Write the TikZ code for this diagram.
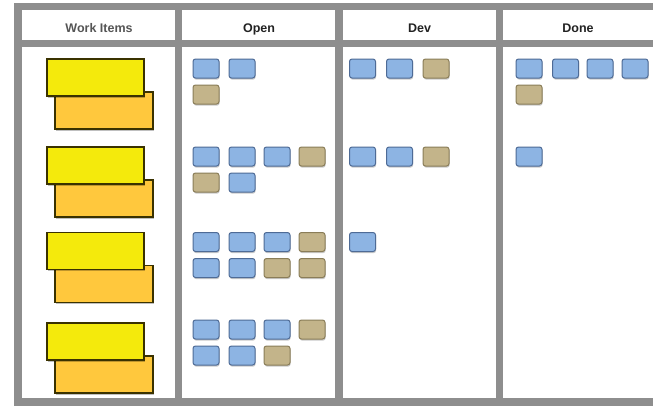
\documentclass[tikz,border=0pt]{standalone}
\usepackage{fontspec}
\newfontfamily\hdrfont{Liberation Sans}
\usetikzlibrary{shadows}
\definecolor{gridgray}{HTML}{8E8E8E}
\definecolor{cardblue}{HTML}{8DB4E3}
\definecolor{cardblueline}{HTML}{4E6B96}
\definecolor{cardtan}{HTML}{C3B48A}
\definecolor{cardtanline}{HTML}{8A7D58}
\definecolor{noteyellow}{HTML}{F4EA0C}
\definecolor{noteorange}{HTML}{FFC83D}
\definecolor{noteline}{HTML}{3A3200}
\definecolor{hdrtext}{HTML}{222222}
\definecolor{hdrlight}{HTML}{555555}
\tikzset{
  gridline/.style={draw=gridgray, line width=7.5pt},
  hdr/.style={font=\hdrfont\fontsize{12.5}{14}\selectfont\bfseries, text=hdrtext, inner sep=0pt, anchor=base},
  card/.style={rectangle, rounded corners=2.5pt, minimum width=26pt, minimum height=19pt,
    inner sep=0pt, line width=1pt,
    drop shadow={shadow xshift=0.6pt, shadow yshift=-1.6pt, opacity=0.35, fill=black!60}},
  bcard/.style={card, fill=cardblue, draw=cardblueline},
  tcard/.style={card, fill=cardtan, draw=cardtanline},
  note/.style={rectangle, minimum width=97pt, minimum height=37pt, inner sep=0pt,
    line width=1.2pt, draw=noteline,
    drop shadow={shadow xshift=1pt, shadow yshift=-1.5pt, opacity=0.25, fill=black}},
  ynote/.style={note, fill=noteyellow},
  onote/.style={note, fill=noteorange, minimum width=98pt},
}
\begin{document}
\begin{tikzpicture}[x=1pt,y=-1pt]
\useasboundingbox (0,0) rectangle (653,405);
\fill[white] (0,0) rectangle (653,405);
\begin{scope}
\clip (0,0) rectangle (653,405);
% board grid
\draw[gridline] (18,6.5) rectangle (690,402);
\draw[gridline] (18,43.5) -- (690,43.5);
\draw[gridline] (178.5,6.5) -- (178.5,402);
\draw[gridline] (339,6.5) -- (339,402);
\draw[gridline] (499.5,6.5) -- (499.5,402);
\end{scope}
% headers
\node[hdr, text=hdrlight] (hwork) at (99,32.5) {Work Items};
\node[hdr] (hopen) at (259,32.5) {Open};
\node[hdr] (hdev) at (419.5,32.5) {Dev};
\node[hdr] (hdone) at (578,32.5) {Done};
% work item notes (orange behind yellow)
\node[onote] (w1b) at (104,110.5) {};
\node[ynote] (w1a) at (95.5,77.5) {};
\node[onote] (w2b) at (104,198.5) {};
\node[ynote] (w2a) at (95.5,165.5) {};
\node[onote] (w3b) at (104,284) {};
\node[ynote] (w3a) at (95.5,251) {};
\node[onote] (w4b) at (104,374.5) {};
\node[ynote] (w4a) at (95.5,341.5) {};
% Open column
\node[bcard] (o1a) at (206,68.5) {};
\node[bcard] (o1b) at (242,68.5) {};
\node[tcard] (o1c) at (206,94.5) {};
\node[bcard] (o2a) at (206,156.5) {};
\node[bcard] (o2b) at (242,156.5) {};
\node[bcard] (o2c) at (277,156.5) {};
\node[tcard] (o2d) at (312,156.5) {};
\node[tcard] (o2e) at (206,182.5) {};
\node[bcard] (o2f) at (242,182.5) {};
\node[bcard] (o3a) at (206,242) {};
\node[bcard] (o3b) at (242,242) {};
\node[bcard] (o3c) at (277,242) {};
\node[tcard] (o3d) at (312,242) {};
\node[bcard] (o3e) at (206,268) {};
\node[bcard] (o3f) at (242,268) {};
\node[tcard] (o3g) at (277,268) {};
\node[tcard] (o3h) at (312,268) {};
\node[bcard] (o4a) at (206,329.5) {};
\node[bcard] (o4b) at (242,329.5) {};
\node[bcard] (o4c) at (277,329.5) {};
\node[tcard] (o4d) at (312,329.5) {};
\node[bcard] (o4e) at (206,355.5) {};
\node[bcard] (o4f) at (242,355.5) {};
\node[tcard] (o4g) at (277,355.5) {};
% Dev column
\node[bcard] (d1a) at (362.5,68.5) {};
\node[bcard] (d1b) at (399.5,68.5) {};
\node[tcard] (d1c) at (436,68.5) {};
\node[bcard] (d2a) at (362.5,156.5) {};
\node[bcard] (d2b) at (399.5,156.5) {};
\node[tcard] (d2c) at (436,156.5) {};
\node[bcard] (d3a) at (362.5,242) {};
% Done column
\node[bcard] (n1a) at (529,68.5) {};
\node[bcard] (n1b) at (565.5,68.5) {};
\node[bcard] (n1c) at (600,68.5) {};
\node[bcard] (n1d) at (635,68.5) {};
\node[tcard] (n1e) at (529,94.5) {};
\node[bcard] (n2a) at (529,156.5) {};
\end{tikzpicture}
\end{document}
